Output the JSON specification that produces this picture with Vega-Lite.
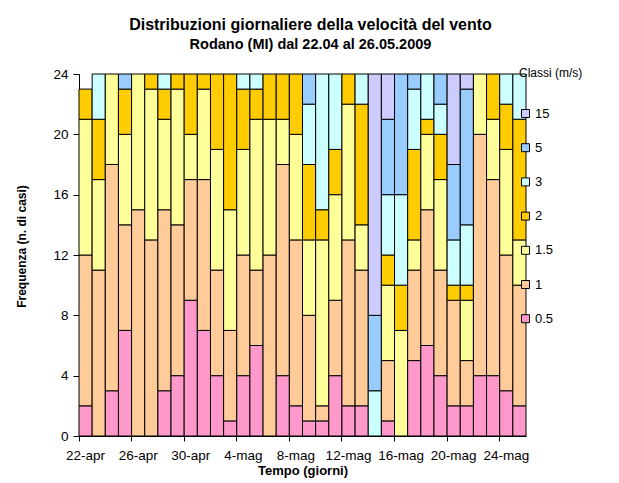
{
  "$schema": "https://vega.github.io/schema/vega-lite/v6.json",
  "width": 447,
  "height": 362,
  "autosize": {"type": "none"},
  "padding": {"left": 79, "top": 74, "right": 93, "bottom": 47},
  "background": "white",
  "title": {
    "text": "Distribuzioni giornaliere della velocità del vento",
    "subtitle": "Rodano (MI) dal 22.04 al 26.05.2009",
    "frame": "group",
    "anchor": "middle",
    "dx": 8,
    "offset": 16,
    "font": "Liberation Sans",
    "fontSize": 16,
    "fontWeight": "bold",
    "color": "black",
    "subtitleFont": "Liberation Sans",
    "subtitleFontSize": 14.5,
    "subtitleFontWeight": "bold",
    "subtitleColor": "black",
    "subtitlePadding": 5
  },
  "data": {
    "values": [
      {"d":"22-apr","c":0.5,"n":2},{"d":"22-apr","c":1,"n":10},{"d":"22-apr","c":1.5,"n":9},{"d":"22-apr","c":2,"n":2},
      {"d":"23-apr","c":1,"n":11},{"d":"23-apr","c":1.5,"n":6},{"d":"23-apr","c":2,"n":4},{"d":"23-apr","c":3,"n":3},
      {"d":"24-apr","c":0.5,"n":3},{"d":"24-apr","c":1,"n":15},{"d":"24-apr","c":1.5,"n":6},
      {"d":"25-apr","c":0.5,"n":7},{"d":"25-apr","c":1,"n":7},{"d":"25-apr","c":1.5,"n":6},{"d":"25-apr","c":2,"n":3},{"d":"25-apr","c":5,"n":1},
      {"d":"26-apr","c":1,"n":15},{"d":"26-apr","c":1.5,"n":9},
      {"d":"27-apr","c":1,"n":13},{"d":"27-apr","c":1.5,"n":10},{"d":"27-apr","c":2,"n":1},
      {"d":"28-apr","c":0.5,"n":3},{"d":"28-apr","c":1,"n":12},{"d":"28-apr","c":1.5,"n":6},{"d":"28-apr","c":2,"n":2},{"d":"28-apr","c":3,"n":1},
      {"d":"29-apr","c":0.5,"n":4},{"d":"29-apr","c":1,"n":10},{"d":"29-apr","c":1.5,"n":9},{"d":"29-apr","c":2,"n":1},
      {"d":"30-apr","c":0.5,"n":9},{"d":"30-apr","c":1,"n":8},{"d":"30-apr","c":1.5,"n":3},{"d":"30-apr","c":2,"n":4},
      {"d":"1-mag","c":0.5,"n":7},{"d":"1-mag","c":1,"n":10},{"d":"1-mag","c":1.5,"n":6},{"d":"1-mag","c":2,"n":1},
      {"d":"2-mag","c":0.5,"n":4},{"d":"2-mag","c":1,"n":7},{"d":"2-mag","c":1.5,"n":8},{"d":"2-mag","c":2,"n":5},
      {"d":"3-mag","c":0.5,"n":1},{"d":"3-mag","c":1,"n":6},{"d":"3-mag","c":1.5,"n":8},{"d":"3-mag","c":2,"n":9},
      {"d":"4-mag","c":0.5,"n":4},{"d":"4-mag","c":1,"n":8},{"d":"4-mag","c":1.5,"n":7},{"d":"4-mag","c":2,"n":4},{"d":"4-mag","c":3,"n":1},
      {"d":"5-mag","c":0.5,"n":6},{"d":"5-mag","c":1,"n":5},{"d":"5-mag","c":1.5,"n":10},{"d":"5-mag","c":2,"n":2},{"d":"5-mag","c":3,"n":1},
      {"d":"6-mag","c":1,"n":12},{"d":"6-mag","c":1.5,"n":9},{"d":"6-mag","c":2,"n":3},
      {"d":"7-mag","c":0.5,"n":4},{"d":"7-mag","c":1,"n":14},{"d":"7-mag","c":1.5,"n":3},{"d":"7-mag","c":2,"n":3},
      {"d":"8-mag","c":0.5,"n":2},{"d":"8-mag","c":1,"n":11},{"d":"8-mag","c":1.5,"n":7},{"d":"8-mag","c":2,"n":4},
      {"d":"9-mag","c":0.5,"n":1},{"d":"9-mag","c":1,"n":7},{"d":"9-mag","c":1.5,"n":5},{"d":"9-mag","c":2,"n":5},{"d":"9-mag","c":3,"n":4},{"d":"9-mag","c":5,"n":2},
      {"d":"10-mag","c":0.5,"n":1},{"d":"10-mag","c":1,"n":1},{"d":"10-mag","c":1.5,"n":11},{"d":"10-mag","c":2,"n":2},{"d":"10-mag","c":3,"n":9},
      {"d":"11-mag","c":0.5,"n":4},{"d":"11-mag","c":1,"n":5},{"d":"11-mag","c":1.5,"n":7},{"d":"11-mag","c":2,"n":3},{"d":"11-mag","c":3,"n":5},
      {"d":"12-mag","c":0.5,"n":2},{"d":"12-mag","c":1,"n":11},{"d":"12-mag","c":1.5,"n":9},{"d":"12-mag","c":2,"n":2},
      {"d":"13-mag","c":0.5,"n":2},{"d":"13-mag","c":1,"n":9},{"d":"13-mag","c":1.5,"n":3},{"d":"13-mag","c":2,"n":8},{"d":"13-mag","c":3,"n":2},
      {"d":"14-mag","c":3,"n":3},{"d":"14-mag","c":5,"n":5},{"d":"14-mag","c":15,"n":16},
      {"d":"15-mag","c":0.5,"n":1},{"d":"15-mag","c":1,"n":4},{"d":"15-mag","c":1.5,"n":5},{"d":"15-mag","c":2,"n":2},{"d":"15-mag","c":3,"n":4},{"d":"15-mag","c":5,"n":5},{"d":"15-mag","c":15,"n":3},
      {"d":"16-mag","c":1.5,"n":7},{"d":"16-mag","c":2,"n":3},{"d":"16-mag","c":3,"n":6},{"d":"16-mag","c":5,"n":8},
      {"d":"17-mag","c":0.5,"n":5},{"d":"17-mag","c":1,"n":6},{"d":"17-mag","c":1.5,"n":2},{"d":"17-mag","c":2,"n":6},{"d":"17-mag","c":3,"n":4},{"d":"17-mag","c":5,"n":1},
      {"d":"18-mag","c":0.5,"n":6},{"d":"18-mag","c":1,"n":9},{"d":"18-mag","c":1.5,"n":5},{"d":"18-mag","c":2,"n":1},{"d":"18-mag","c":3,"n":3},
      {"d":"19-mag","c":0.5,"n":4},{"d":"19-mag","c":1,"n":7},{"d":"19-mag","c":1.5,"n":6},{"d":"19-mag","c":2,"n":3},{"d":"19-mag","c":3,"n":2},{"d":"19-mag","c":5,"n":2},
      {"d":"20-mag","c":0.5,"n":2},{"d":"20-mag","c":1,"n":7},{"d":"20-mag","c":2,"n":1},{"d":"20-mag","c":3,"n":3},{"d":"20-mag","c":5,"n":5},{"d":"20-mag","c":15,"n":6},
      {"d":"21-mag","c":0.5,"n":2},{"d":"21-mag","c":1,"n":3},{"d":"21-mag","c":1.5,"n":4},{"d":"21-mag","c":2,"n":1},{"d":"21-mag","c":3,"n":4},{"d":"21-mag","c":5,"n":9},{"d":"21-mag","c":15,"n":1},
      {"d":"22-mag","c":0.5,"n":4},{"d":"22-mag","c":1,"n":16},{"d":"22-mag","c":1.5,"n":4},
      {"d":"23-mag","c":0.5,"n":4},{"d":"23-mag","c":1,"n":13},{"d":"23-mag","c":1.5,"n":4},{"d":"23-mag","c":2,"n":3},
      {"d":"24-mag","c":0.5,"n":3},{"d":"24-mag","c":1,"n":9},{"d":"24-mag","c":1.5,"n":7},{"d":"24-mag","c":2,"n":3},{"d":"24-mag","c":3,"n":2},
      {"d":"25-mag","c":0.5,"n":2},{"d":"25-mag","c":1,"n":8},{"d":"25-mag","c":1.5,"n":3},{"d":"25-mag","c":2,"n":8},{"d":"25-mag","c":3,"n":3}
    ]
  },
  "mark": {"type": "bar", "stroke": "black", "strokeWidth": 1},
  "encoding": {
    "x": {
      "field": "d",
      "type": "ordinal",
      "scale": {
        "domain": ["22-apr","23-apr","24-apr","25-apr","26-apr","27-apr","28-apr","29-apr","30-apr","1-mag","2-mag","3-mag","4-mag","5-mag","6-mag","7-mag","8-mag","9-mag","10-mag","11-mag","12-mag","13-mag","14-mag","15-mag","16-mag","17-mag","18-mag","19-mag","20-mag","21-mag","22-mag","23-mag","24-mag","25-mag"],
        "paddingInner": 0,
        "paddingOuter": 0
      },
      "axis": {
        "title": "Tempo (giorni)",
        "values": ["22-apr","26-apr","30-apr","4-mag","8-mag","12-mag","16-mag","20-mag","24-mag"],
        "bandPosition": 0,
        "labelOffset": 0,
        "labelAngle": 0,
        "labelFont": "Liberation Sans",
        "labelFontSize": 13.5,
        "labelColor": "black",
        "labelPadding": 7,
        "tickSize": 5,
        "tickColor": "black",
        "domainColor": "black",
        "titleFont": "Liberation Sans",
        "titleFontSize": 13,
        "titleFontWeight": "bold",
        "titleColor": "black",
        "titlePadding": 3
      }
    },
    "y": {
      "field": "n",
      "type": "quantitative",
      "stack": "zero",
      "scale": {"domain": [0, 24], "nice": false},
      "axis": {
        "title": "Frequenza (n. di casi)",
        "titleY": 172,
        "values": [0, 4, 8, 12, 16, 20, 24],
        "grid": false,
        "labelFont": "Liberation Sans",
        "labelFontSize": 13.5,
        "labelColor": "black",
        "labelPadding": 5,
        "tickSize": 6,
        "tickColor": "black",
        "domainColor": "black",
        "titleFont": "Liberation Sans",
        "titleFontSize": 12,
        "titleFontWeight": "bold",
        "titleColor": "black",
        "titlePadding": 24
      }
    },
    "color": {
      "field": "c",
      "type": "ordinal",
      "scale": {
        "domain": [15, 5, 3, 2, 1.5, 1, 0.5],
        "range": ["#CCCCFF", "#99CCFF", "#CCFFFF", "#FFCC00", "#FFFF99", "#FFCC99", "#FF99CC"]
      },
      "legend": {
        "title": "Classi (m/s)",
        "orient": "none",
        "legendX": 440,
        "legendY": -6,
        "symbolType": "square",
        "symbolSize": 64,
        "symbolStrokeColor": "black",
        "symbolStrokeWidth": 1,
        "labelFont": "Liberation Sans",
        "labelFontSize": 13,
        "labelColor": "black",
        "labelOffset": 3,
        "rowPadding": 20.2,
        "titleFont": "Liberation Sans",
        "titleFontSize": 12,
        "titleFontWeight": "normal",
        "titleColor": "black",
        "titlePadding": 27
      }
    },
    "order": {"field": "c", "type": "quantitative", "sort": "ascending"}
  },
  "config": {
    "view": {"stroke": null}
  }
}
